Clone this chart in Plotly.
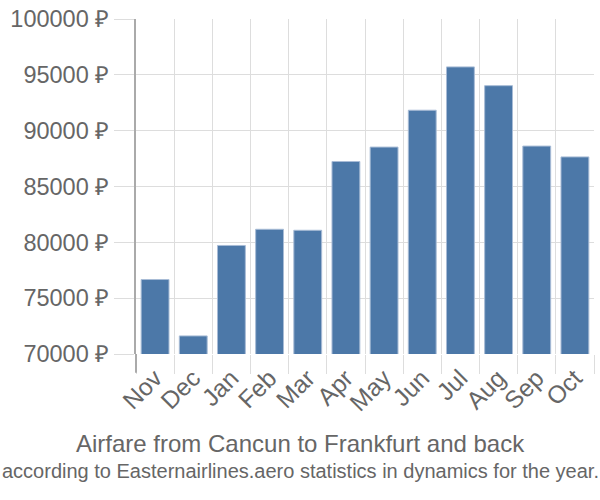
import plotly.graph_objects as go

months = ["Nov", "Dec", "Jan", "Feb", "Mar", "Apr", "May", "Jun", "Jul", "Aug", "Sep", "Oct"]
prices = [76670, 71620, 79720, 81170, 81080, 87240, 88530, 91830, 95710, 94030, 88620, 87650]
y_ticks = [70000, 75000, 80000, 85000, 90000, 95000, 100000]
y_labels = [f"{v} ₽" for v in y_ticks]
title = "Airfare from Cancun to Frankfurt and back"
subtitle = "according to Easternairlines.aero statistics in dynamics for the year."

fig = go.Figure()
fig.add_trace(go.Bar(
    x=months, y=prices,
    marker=dict(color="#4c78a8", line=dict(color="#a8bcd6", width=1)),
    width=0.73,
))

fig.update_layout(
    width=600, height=500,
    margin=dict(l=136, r=6, t=14, b=146),
    paper_bgcolor="white", plot_bgcolor="white",
    font=dict(family="Liberation Sans, Arial, sans-serif", color="#666666"),
    showlegend=False,
    xaxis=dict(
        type="category", tickson="boundaries",
        showgrid=True, gridcolor="#dddddd", gridwidth=1,
        ticks="outside", ticklen=19, tickcolor="#dddddd", tickwidth=1,
        tickangle=-45, tickfont=dict(size=24.5, color="#666666"),
        ticklabelstandoff=4,
        showline=False, zeroline=False,
    ),
    yaxis=dict(
        range=[70000, 100000],
        tickvals=y_ticks, ticktext=y_labels,
        showgrid=True, gridcolor="#dddddd", gridwidth=1,
        ticks="outside", ticklen=20, tickcolor="#dddddd", tickwidth=1,
        tickfont=dict(size=23.5, color="#666666"),
        showline=True, linecolor="#aaaaaa", linewidth=2,
        zeroline=False,
    ),
    annotations=[
        dict(text=title, x=0.5, xref="paper", y=55, yref="paper", yanchor="middle",
             showarrow=False, font=dict(size=24, color="#666666")),
        dict(text=subtitle, x=0.5, xref="paper", y=27, yref="paper", yanchor="middle",
             showarrow=False, font=dict(size=20, color="#666666")),
    ],
)

plot_h = 500 - 14 - 146
plot_w = 600 - 136 - 6
for ann, ypix in zip(fig.layout.annotations, [445, 473]):
    ann.y = (500 - 146 - ypix) / plot_h
    ann.x = (300 - 136) / plot_w
    ann.xanchor = "center"

fig.add_shape(type="line", xref="paper", yref="paper", x0=0, x1=0,
              y0=-19 / plot_h, y1=0, line=dict(color="#aaaaaa", width=2))

fig.write_html("out.html")
